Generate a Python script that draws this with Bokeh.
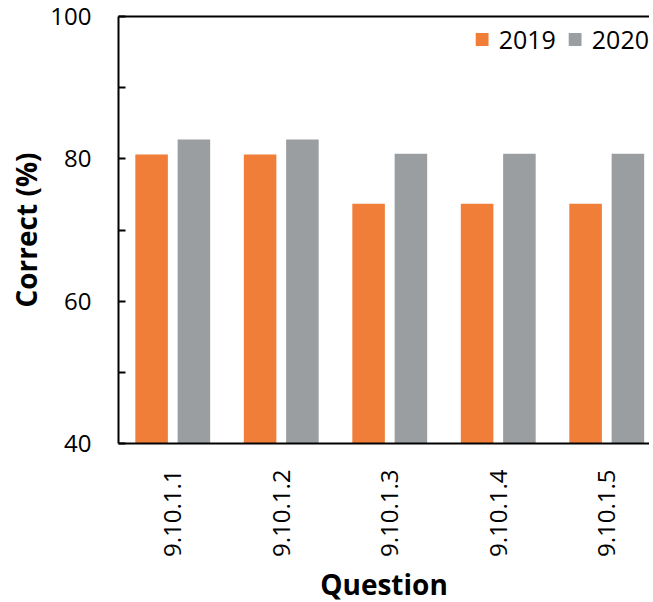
import math
from bokeh.plotting import figure
from bokeh.models import ColumnDataSource, Range1d, FixedTicker, LinearAxis
from bokeh.transform import dodge
from bokeh.embed import file_html
from bokeh.resources import INLINE

questions = ["9.10.1.1", "9.10.1.2", "9.10.1.3", "9.10.1.4", "9.10.1.5"]
y2019 = [80.6, 80.6, 73.7, 73.7, 73.7]
y2020 = [82.7, 82.7, 80.7, 80.7, 80.7]
yticks = [40, 60, 80, 100]
yminor = [50, 70, 90]

pos = [i + 0.5 for i in range(len(questions))]
src = ColumnDataSource(dict(x=pos, q=questions, a=y2019, b=y2020))

FONT = "Open Sans"

p = figure(frame_width=531, frame_height=427,
           x_range=Range1d(0, 4.894), y_range=Range1d(40, 100),
           output_backend="svg", toolbar_location=None,
           min_border_left=118, min_border_right=0, min_border_top=16,
           min_border_bottom=0)

p.vbar(x=dodge("x", -0.195, range=p.x_range), top="a", bottom=40, width=0.30,
       source=src, fill_color="#F07E38", line_color=None, legend_label="2019")
p.vbar(x=dodge("x", 0.195, range=p.x_range), top="b", bottom=40, width=0.30,
       source=src, fill_color="#9A9EA1", line_color=None, legend_label="2020")

p.grid.visible = False
p.outline_line_color = None

# x axis
xa = p.xaxis[0]
xa.ticker = FixedTicker(ticks=pos)
xa.major_label_overrides = {v: q for v, q in zip(pos, questions)}
xa.major_label_orientation = math.pi / 2
xa.major_tick_line_color = None
xa.minor_tick_line_color = None
xa.axis_line_width = 2
xa.axis_line_color = "black"
xa.major_label_text_font = FONT
xa.major_label_text_font_size = "24px"
xa.major_label_text_color = "black"
xa.major_label_standoff = 20
xa.axis_label = "Question"
xa.axis_label_text_font = FONT
xa.axis_label_text_font_style = "bold"
xa.axis_label_text_font_size = "28px"
xa.axis_label_text_color = "black"
xa.axis_label_standoff = 5

# y axis
ya = p.yaxis[0]
ya.ticker = FixedTicker(ticks=yticks, minor_ticks=yminor)
ya.major_tick_in = 7
ya.major_tick_out = 0
ya.minor_tick_in = 7
ya.minor_tick_out = 0
ya.major_tick_line_width = 2
ya.minor_tick_line_width = 2
ya.major_tick_line_color = "black"
ya.minor_tick_line_color = "black"
ya.axis_line_width = 2
ya.axis_line_color = "black"
ya.major_label_text_font = FONT
ya.major_label_text_font_size = "24px"
ya.major_label_text_color = "black"
ya.major_label_standoff = 27
ya.axis_label = "Correct (%)"
ya.axis_label_text_font = FONT
ya.axis_label_text_font_style = "bold"
ya.axis_label_text_font_size = "28px"
ya.axis_label_text_color = "black"
ya.axis_label_standoff = 2

# top border line
top = LinearAxis(ticker=FixedTicker(ticks=[]), axis_line_width=2,
                 axis_line_color="black", major_tick_line_color=None,
                 minor_tick_line_color=None, major_label_text_font_size="0px",
                 major_tick_out=0, major_tick_in=0, minor_tick_out=0,
                 major_label_standoff=0)
p.add_layout(top, "above")

lg = p.legend[0]
lg.location = "top_right"
lg.orientation = "horizontal"
lg.background_fill_alpha = 0
lg.border_line_color = None
lg.glyph_width = 16
lg.glyph_height = 16
lg.label_height = 46
lg.label_text_font = FONT
lg.label_text_font_size = "25px"
lg.label_text_color = "black"
lg.label_standoff = 9
lg.spacing = 11
lg.margin = 0
lg.padding = 0

open("out.html", "w").write(file_html(p, INLINE))
